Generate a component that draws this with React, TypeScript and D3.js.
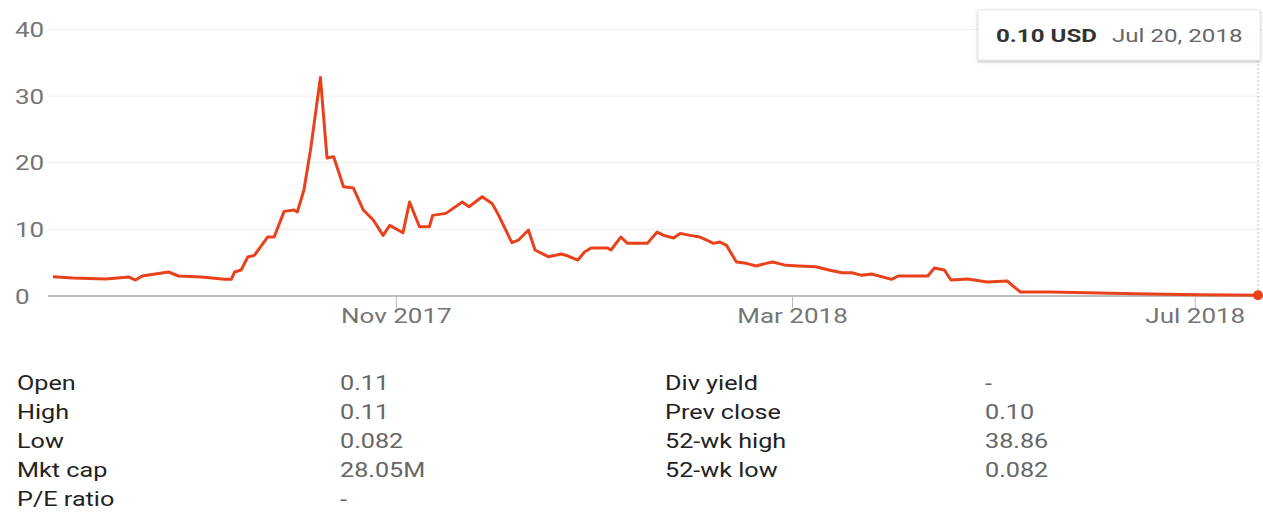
import React from "react";
import * as d3 from "d3";

const dates = [
  "2017-07-20","2017-07-26","2017-08-05","2017-08-12","2017-08-14","2017-08-16","2017-08-20","2017-08-24","2017-08-27",
  "2017-09-03","2017-09-10","2017-09-12","2017-09-13","2017-09-15","2017-09-17","2017-09-19","2017-09-23","2017-09-25",
  "2017-09-28","2017-10-01","2017-10-02","2017-10-04","2017-10-06","2017-10-09","2017-10-11","2017-10-13","2017-10-16",
  "2017-10-19","2017-10-22","2017-10-25","2017-10-28","2017-10-30","2017-11-03","2017-11-05","2017-11-08","2017-11-11",
  "2017-11-12","2017-11-16","2017-11-21","2017-11-23","2017-11-27","2017-11-30","2017-12-02","2017-12-06","2017-12-08",
  "2017-12-11","2017-12-13","2017-12-17","2017-12-21","2017-12-23","2017-12-26","2017-12-28","2017-12-30","2018-01-04",
  "2018-01-05","2018-01-08","2018-01-10","2018-01-13","2018-01-16","2018-01-19","2018-01-21","2018-01-24","2018-01-26",
  "2018-01-29","2018-02-01","2018-02-03","2018-02-05","2018-02-07","2018-02-09","2018-02-12","2018-02-15","2018-02-18",
  "2018-02-21","2018-02-23","2018-02-27","2018-03-03","2018-03-08","2018-03-12","2018-03-16","2018-03-19","2018-03-22",
  "2018-03-25","2018-03-31","2018-04-02","2018-04-06","2018-04-11","2018-04-13","2018-04-16","2018-04-18","2018-04-23",
  "2018-04-29","2018-05-05","2018-05-09","2018-05-18","2018-06-02","2018-06-17","2018-07-02","2018-07-20"
];
const prices = [
  2.9,2.7,2.55,2.85,2.4,3.0,3.3,3.6,3.0,
  2.85,2.5,2.5,3.6,3.9,5.85,6.1,8.85,8.85,
  12.7,12.9,12.6,15.9,21.9,32.8,20.7,20.9,16.4,
  16.2,12.9,11.4,9.1,10.6,9.5,14.1,10.4,10.4,
  12.1,12.4,14.1,13.4,14.9,13.9,12.1,8.0,8.4,
  9.9,6.9,5.9,6.3,6.0,5.4,6.6,7.2,7.2,
  6.9,8.85,7.9,7.9,7.9,9.6,9.1,8.7,9.4,
  9.1,8.85,8.4,7.9,8.1,7.6,5.1,4.9,4.5,
  4.9,5.1,4.6,4.5,4.4,3.9,3.5,3.5,3.1,
  3.3,2.5,3.0,3.0,3.0,4.2,3.9,2.4,2.55,
  2.1,2.25,0.6,0.6,0.45,0.3,0.2,0.1
];

const yTicks = [0, 10, 20, 30, 40];
const xTickDates = ["2017-11-01", "2018-03-01", "2018-07-01"];
const xTickLabels = ["Nov 2017", "Mar 2018", "Jul 2018"];

const tooltipPrice = "0.10 USD";
const tooltipDate = "Jul 20, 2018";

const leftLabels = ["Open", "High", "Low", "Mkt cap", "P/E ratio"];
const leftValues = ["0.11", "0.11", "0.082", "28.05M", "-"];
const rightLabels = ["Div yield", "Prev close", "52-wk high", "52-wk low"];
const rightValues = ["-", "0.10", "38.86", "0.082"];

const W = 1263;
const H = 518;
const FONT = "Roboto, Arial, sans-serif";
const SX = 1.3;
const TSX = 1.2;

export default function App() {
  const parse = d3.utcParse("%Y-%m-%d");
  const data = dates.map((d, i) => ({ date: parse(d) as Date, value: prices[i] }));

  const x = d3
    .scaleUtc()
    .domain([parse("2017-07-20") as Date, parse("2018-07-20") as Date])
    .range([53, 1258]);
  const y = d3.scaleLinear().domain([0, 40]).range([296, 29.5]);

  const line = d3
    .line<{ date: Date; value: number }>()
    .x((d) => x(d.date))
    .y((d) => y(d.value));

  const last = data[data.length - 1];
  const rowY = (i: number) => 382 + i * 29;

  const tableText = (key: string, tx: number, i: number, txt: string, fill: string) => (
    <text key={key} transform={`translate(${tx},${rowY(i) + 8}) scale(${TSX},1)`} fontSize={21} fill={fill}>
      {txt}
    </text>
  );

  return (
    <div style={{ position: "absolute", left: 0, top: 0, width: W, height: H, background: "#fff" }}>
      <svg width={W} height={H} style={{ display: "block", fontFamily: FONT }}>
        <defs>
          <filter id="shadow" x="-10%" y="-30%" width="120%" height="170%">
            <feDropShadow dx="0" dy="1.5" stdDeviation="1.5" floodColor="#000" floodOpacity="0.25" />
          </filter>
        </defs>

        {yTicks.filter((t) => t > 0).map((t) => (
          <line key={t} x1={48} x2={W} y1={y(t)} y2={y(t)} stroke="#eeeeee" strokeWidth={1} />
        ))}
        {yTicks.map((t) => (
          <text
            key={t}
            transform={`translate(15,${y(t) + 7.5}) scale(${SX},1)`}
            fontSize={20}
            fill="#757575"
          >
            {t}
          </text>
        ))}

        <line x1={48} x2={W} y1={y(0)} y2={y(0)} stroke="#bdbdbd" strokeWidth={2} />

        {xTickDates.map((d, i) => {
          const px = x(parse(d) as Date);
          return (
            <g key={d}>
              <line x1={px} x2={px} y1={y(0)} y2={y(0) + 12} stroke="#bdbdbd" strokeWidth={1} />
              <text
                transform={`translate(${px},${323}) scale(${SX},1)`}
                textAnchor="middle"
                fontSize={20}
                fill="#757575"
              >
                {xTickLabels[i]}
              </text>
            </g>
          );
        })}

        <line x1={x(last.date)} x2={x(last.date)} y1={60} y2={y(0)} stroke="#bbbbbb" strokeWidth={1} strokeDasharray="2,2" />

        <path d={line(data) || ""} fill="none" stroke="#e8411b" strokeWidth={3} strokeLinejoin="round" />
        <circle cx={x(last.date)} cy={y(last.value)} r={5} fill="#e8411b" />

        <rect x={978} y={10} width={282} height={50} fill="#fff" stroke="#e6e6e6" filter="url(#shadow)" />
        <text transform={`translate(996,42) scale(1.27,1)`} fontSize={19} fontWeight="bold" fill="#333">
          {tooltipPrice}
        </text>
        <text transform={`translate(1112,42) scale(1.27,1)`} fontSize={19} fill="#666">
          {tooltipDate}
        </text>

        {leftLabels.map((l, i) => (
          <g key={l}>
            {tableText("l" + i, 17, i, l, "#222")}
            {tableText("lv" + i, 340, i, leftValues[i], "#666")}
          </g>
        ))}
        {rightLabels.map((l, i) => (
          <g key={l}>
            {tableText("r" + i, 665, i, l, "#222")}
            {tableText("rv" + i, 985, i, rightValues[i], "#666")}
          </g>
        ))}
      </svg>
    </div>
  );
}
